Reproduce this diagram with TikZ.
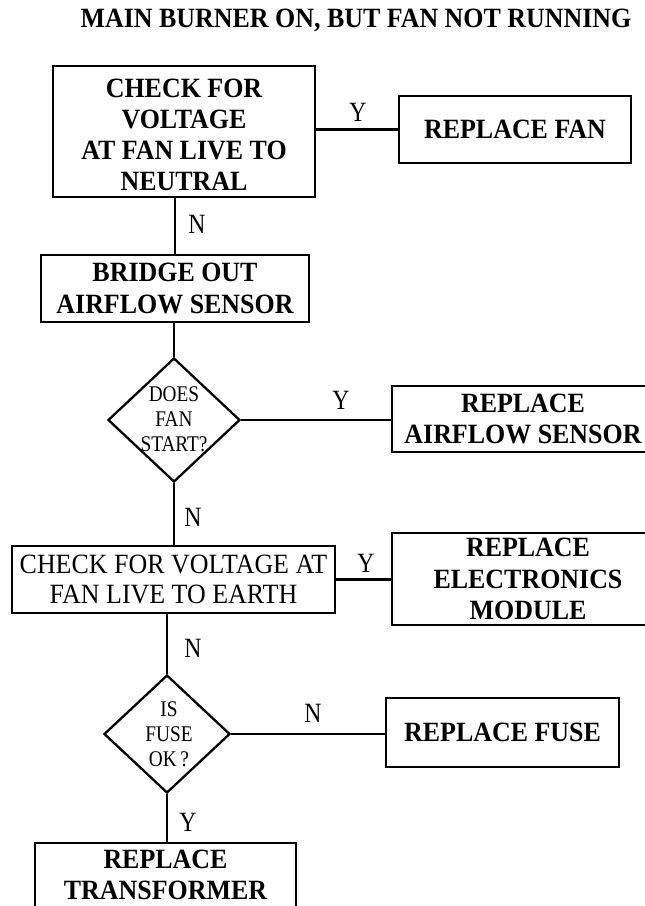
\documentclass[tikz,border=0pt]{standalone}
\usepackage{fontspec}
\setmainfont{Liberation Serif}[FakeStretch=0.93]
\newfontfamily\condfont{Liberation Serif}[FakeStretch=0.86]
\newfontfamily\letterfont{Liberation Serif}[FakeStretch=0.85]
\usetikzlibrary{shapes.geometric}

\begin{document}
\begin{tikzpicture}[x=1bp, y=-1bp, line width=2.6bp,
  frame/.style={draw, rectangle, inner sep=0pt},
  box/.style={frame, align=center,
    font=\fontsize{28}{31.3}\selectfont\bfseries},
  plainbox/.style={frame, align=center,
    font=\fontsize{28}{31}\selectfont},
  btext/.style={inner sep=0pt, align=center,
    font=\fontsize{28}{31.3}\selectfont\bfseries},
  decision/.style={draw, diamond, inner sep=0pt, line width=2.3bp},
  dtext/.style={inner sep=0pt, align=center,
    font=\condfont\fontsize{22.5}{25}\selectfont},
  answer/.style={inner sep=0pt, font=\letterfont\fontsize{28}{28}\selectfont},
  heading/.style={inner sep=0pt, font=\fontsize{28}{28}\selectfont\bfseries}]
\useasboundingbox (0,0) rectangle (645,906);
\clip (0,0) rectangle (645,906);

% title
\node[heading] (title) at (356,20.5) {MAIN BURNER ON, BUT FAN NOT RUNNING};

% boxes
\node[frame, minimum width=262bp, minimum height=131bp] (b1) at (184,131.5) {};
\node[btext, yshift=-3.5bp] (b1t) at (b1) {CHECK FOR\\VOLTAGE\\AT FAN LIVE TO\\NEUTRAL};
\node[box, minimum width=232bp, minimum height=67bp] (fan) at (515,129.5)
  {REPLACE FAN};
\node[box, minimum width=268bp, minimum height=67bp] (bridge) at (175,288.5)
  {BRIDGE OUT\\AIRFLOW SENSOR};
\node[decision, minimum width=132bp, minimum height=124bp] (d1) at (174,420) {};
\node[dtext] (d1t) at (174,419) {DOES\\FAN\\START?};
\node[box, minimum width=262bp, minimum height=66bp] (air) at (523,419)
  {REPLACE\\AIRFLOW SENSOR};
\node[plainbox, minimum width=323bp, minimum height=67bp] (chk) at (173.5,579.5)
  {CHECK FOR VOLTAGE AT\\FAN LIVE TO EARTH};
\node[box, minimum width=272bp, minimum height=92bp] (elec) at (528,579)
  {REPLACE\\ELECTRONICS\\MODULE};
\node[decision, minimum width=126bp, minimum height=118bp] (d2) at (167,734) {};
\node[dtext] (d2t) at (169,734) {IS\\FUSE\\OK\,?};
\node[box, minimum width=233bp, minimum height=69bp] (fuse) at (502.5,732.5)
  {REPLACE FUSE};
\node[box, minimum width=261bp, minimum height=64bp] (tr) at (165.5,875)
  {REPLACE\\TRANSFORMER};

% connectors
\draw (fan.west) -- (fan.west -| b1.east);
\draw (bridge.north) -- (bridge.north |- b1.south);
\draw (d1.north) -- (d1.north |- bridge.south);
\draw (d1.east) -- (d1.east -| air.west);
\draw (d1.south) -- (d1.south |- chk.north);
\draw (chk.east) -- (chk.east -| elec.west);
\draw (d2.north) -- (d2.north |- chk.south);
\draw (d2.east) -- (d2.east -| fuse.west);
\draw (d2.south) -- (d2.south |- tr.north);

% answer labels
\node[answer] (y1) at (358,112) {Y};
\node[answer] (n1) at (197,224) {N};
\node[answer] (y2) at (341,400) {Y};
\node[answer] (n2) at (193,517) {N};
\node[answer] (y3) at (366,563) {Y};
\node[answer] (n3) at (193,648) {N};
\node[answer] (n4) at (313,713) {N};
\node[answer] (y5) at (188,822) {Y};
\end{tikzpicture}
\end{document}
